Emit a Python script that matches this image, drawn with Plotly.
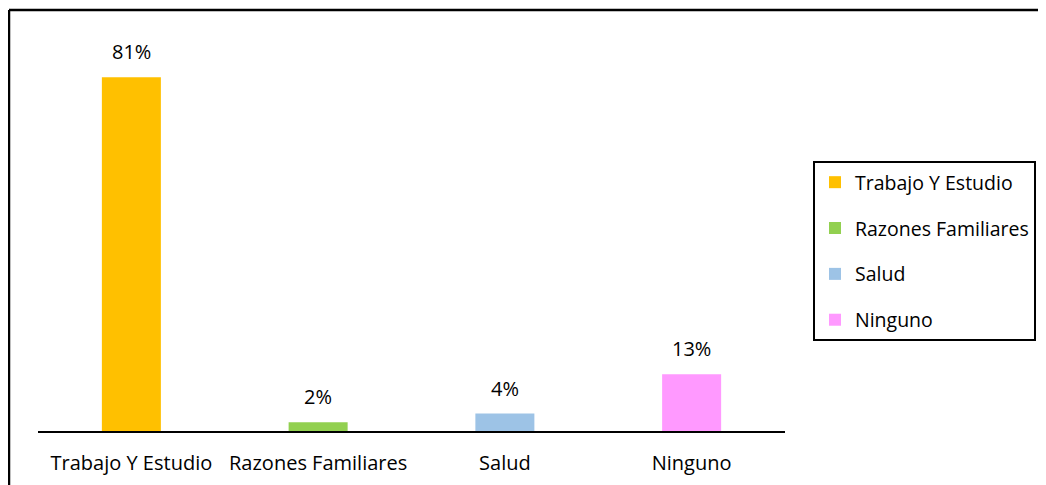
import plotly.graph_objects as go

categories = ["Trabajo Y Estudio", "Razones Familiares", "Salud", "Ninguno"]
values = [81, 2, 4, 13]
labels = ["81%", "2%", "4%", "13%"]
colors = ["#FFC000", "#92D050", "#9DC3E6", "#FF99FF"]

FONT = "Open Sans, Lato, sans-serif"
FS = 20

fig = go.Figure()
for i, (c, v, col) in enumerate(zip(categories, values, colors)):
    fig.add_trace(go.Bar(x=[c], y=[v], name=c, marker=dict(color=col, line=dict(width=0)),
                         legendgroup=f"g{i}", hoverinfo="skip"))

for c, v, t in zip(categories, values, labels):
    fig.add_annotation(x=c, y=v, text=t, showarrow=False, yanchor="bottom", yshift=10,
                       font=dict(family=FONT, size=FS, color="#000000"))

# page body has an 8px margin: work in page coordinates and subtract it
OFF = 8
W, H = 1046 - OFF, 485 - OFF
L, R, T, B = 38 - OFF, 785 - OFF, 38 - OFF, 431 - OFF
fig.update_layout(
    width=W, height=H,
    margin=dict(l=L, r=W - R, t=T, b=H - B, autoexpand=False),
    paper_bgcolor="white", plot_bgcolor="white",
    barmode="overlay", bargap=0.684,
    font=dict(family=FONT, size=FS, color="#000000"),
    showlegend=True,
    legend=dict(xref="container", yref="container", x=(813 - OFF) / W, y=1 - (161 - OFF) / H,
                xanchor="left", yanchor="top",
                bordercolor="black", borderwidth=2, bgcolor="white",
                font=dict(family=FONT, size=19.5, color="#000000"),
                tracegroupgap=17.5, itemwidth=30),
    xaxis=dict(showline=True, linecolor="black", linewidth=1.5, showgrid=False,
               ticks="", ticklabelstandoff=13, fixedrange=True),
    yaxis=dict(range=[0, 90], visible=False, showgrid=False, fixedrange=True),
)

x0 = (9 - 38) / (785 - 38)
x1 = (1044 - 38) / (785 - 38)
ytop = (431 - 10) / (431 - 38)
ybot = (431 - 600) / (431 - 38)
for (a, b, c, d) in [(x0, ytop, x1, ytop), (x0, ytop, x0, ybot), (x1, ytop, x1, ybot)]:
    fig.add_shape(type="line", xref="paper", yref="paper", x0=a, y0=b, x1=c, y1=d,
                  line=dict(color="black", width=2.5))

fig.write_html("out.html")
